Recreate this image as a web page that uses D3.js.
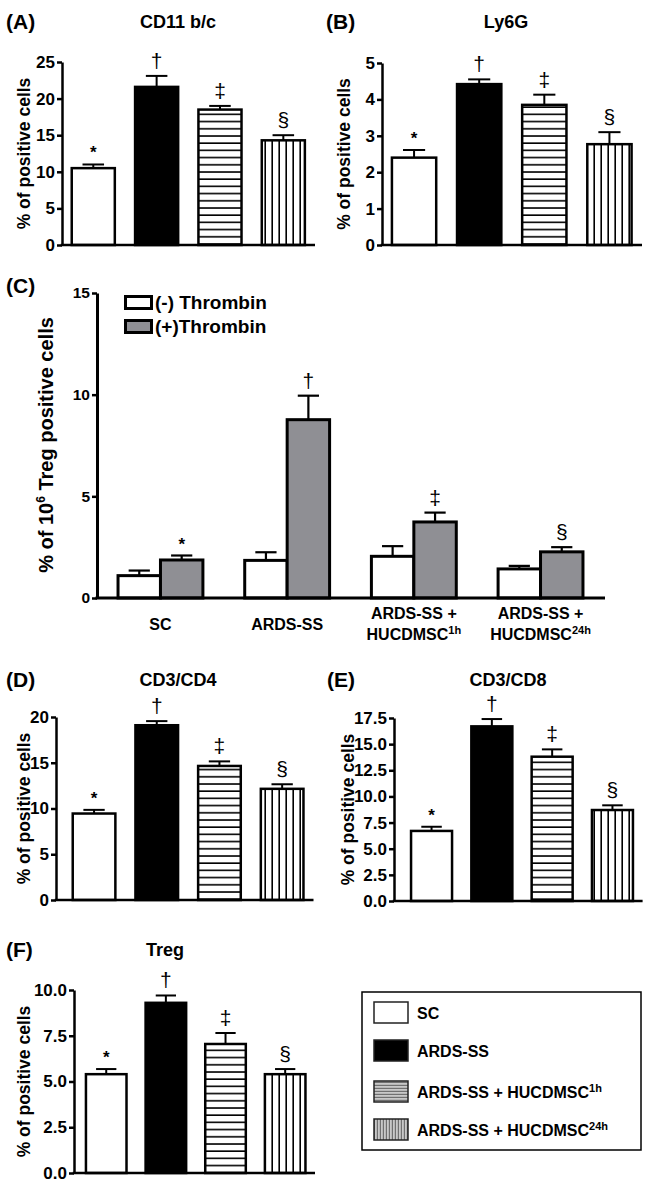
<!DOCTYPE html>
<html>
<head>
<meta charset="utf-8">
<script src="https://cdn.jsdelivr.net/npm/d3@7"></script>
<style>
  html, body { margin: 0; padding: 0; background: #fff; }
  text { font-family: "Liberation Sans", Arial, Helvetica, sans-serif; }
</style>
</head>
<body>
<svg id="chart" width="650" height="1185"></svg>
<script>
// ---------------- DATA ----------------
const categories = ["SC", "ARDS-SS", "ARDS-SS + HUCDMSC1h", "ARDS-SS + HUCDMSC24h"];
const sigSymbols = ["*", "\u2020", "\u2021", "\u00A7"];

const cd11Values = [10.5, 21.6, 18.5, 14.3];
const cd11Errors = [0.5, 1.5, 0.5, 0.7];
const cd11Ticks = [0, 5, 10, 15, 20, 25];

const ly6gValues = [2.4, 4.42, 3.85, 2.77];
const ly6gErrors = [0.21, 0.13, 0.28, 0.33];
const ly6gTicks = [0, 1, 2, 3, 4, 5];

const thrombinNegValues = [1.1, 1.85, 2.05, 1.43];
const thrombinNegErrors = [0.25, 0.4, 0.5, 0.15];
const thrombinPosValues = [1.87, 8.77, 3.74, 2.27];
const thrombinPosErrors = [0.22, 1.18, 0.46, 0.23];
const tregTotalTicks = [0, 5, 10, 15];
const thrombinLegend = ["(-) Thrombin", "(+)Thrombin"];
const groupLabels = [["SC"], ["ARDS-SS"], ["ARDS-SS +", "HUCDMSC", "1h"], ["ARDS-SS +", "HUCDMSC", "24h"]];

const cd4Values = [9.45, 19.1, 14.65, 12.15];
const cd4Errors = [0.4, 0.45, 0.5, 0.5];
const cd4Ticks = [0, 5, 10, 15, 20];

const cd8Values = [6.7, 16.7, 13.8, 8.7];
const cd8Errors = [0.4, 0.7, 0.7, 0.45];
const cd8Ticks = [0, 2.5, 5, 7.5, 10, 12.5, 15, 17.5];

const tregValues = [5.4, 9.3, 7.05, 5.4];
const tregErrors = [0.28, 0.4, 0.6, 0.28];
const tregTicks = [0, 2.5, 5, 7.5, 10];

const legendLabels = ["SC", "ARDS-SS", "ARDS-SS + HUCDMSC", "ARDS-SS + HUCDMSC"];
const legendSups = ["", "", "1h", "24h"];

// ---------------- DRAW ----------------
const svg = d3.select("#chart");
const defs = svg.append("defs");

const hp = defs.append("pattern").attr("id", "hstripe").attr("patternUnits", "userSpaceOnUse")
  .attr("width", 10).attr("height", 7.2);
hp.append("rect").attr("width", 10).attr("height", 7.2).attr("fill", "#fff");
hp.append("rect").attr("x", 0).attr("y", 5.6).attr("width", 10).attr("height", 1.6).attr("fill", "#000");

const vp = defs.append("pattern").attr("id", "vstripe").attr("patternUnits", "userSpaceOnUse")
  .attr("width", 7).attr("height", 10);
vp.append("rect").attr("width", 7).attr("height", 10).attr("fill", "#fff");
vp.append("rect").attr("x", 5.4).attr("y", 0).attr("width", 1.6).attr("height", 10).attr("fill", "#000");

const lhp = defs.append("pattern").attr("id", "lhstripe").attr("patternUnits", "userSpaceOnUse")
  .attr("width", 4).attr("height", 3);
lhp.append("rect").attr("width", 4).attr("height", 3).attr("fill", "#c8c8c8");
lhp.append("rect").attr("y", 1.8).attr("width", 4).attr("height", 1.2).attr("fill", "#707070");

const lvp = defs.append("pattern").attr("id", "lvstripe").attr("patternUnits", "userSpaceOnUse")
  .attr("width", 3).attr("height", 4);
lvp.append("rect").attr("width", 3).attr("height", 4).attr("fill", "#c8c8c8");
lvp.append("rect").attr("x", 1.8).attr("width", 1.2).attr("height", 4).attr("fill", "#707070");

const barFills = ["#ffffff", "#000000", "url(#hstripe)", "url(#vstripe)"];
const legendFills = ["#ffffff", "#000000", "url(#lhstripe)", "url(#lvstripe)"];
const FONT = '"Liberation Sans", Arial, Helvetica, sans-serif';

function styleAxis(g, fontSize) {
  g.select(".domain").attr("stroke", "#000").attr("stroke-width", 2.5);
  g.selectAll(".tick line").attr("stroke", "#000").attr("stroke-width", 2.5);
  g.selectAll(".tick text").attr("fill", "#000").attr("font-size", fontSize)
    .attr("font-weight", "bold").attr("font-family", FONT);
}

function yLabel(x, yc, size, build) {
  const t = svg.append("text")
    .attr("transform", `translate(${x},${yc}) rotate(-90)`)
    .attr("text-anchor", "middle").attr("font-size", size).attr("font-weight", "bold");
  build(t);
  return t;
}

function symbolText(g, cx, yTop, sym) {
  g.append("text").attr("x", cx).attr("y", yTop - (sym === "*" ? 6 : 8))
    .attr("text-anchor", "middle")
    .attr("font-size", sym === "*" ? 17 : 21)
    .attr("font-weight", sym === "*" ? "bold" : "normal")
    .attr("fill", "#000")
    .text(sym);
}

function drawPanel(cfg) {
  const y = d3.scaleLinear().domain([0, cfg.yMax]).range([cfg.y0, cfg.yTop]);
  const x = d3.scaleBand().domain(categories).range([cfg.r0, cfg.r1])
    .paddingInner(0.32).paddingOuter(0.16);
  const g = svg.append("g");

  g.selectAll("rect.bar").data(cfg.values).enter().append("rect")
    .attr("x", (d, i) => x(categories[i]))
    .attr("y", d => y(d))
    .attr("width", x.bandwidth())
    .attr("height", d => y(0) - y(d))
    .attr("fill", (d, i) => barFills[i])
    .attr("stroke", "#000").attr("stroke-width", 2.5);

  const cw = x.bandwidth() / 2;
  cfg.values.forEach((v, i) => {
    const cx = x(categories[i]) + x.bandwidth() / 2;
    const top = v + cfg.errors[i];
    g.append("line").attr("x1", cx).attr("x2", cx).attr("y1", y(v)).attr("y2", y(top))
      .attr("stroke", "#000").attr("stroke-width", 2);
    g.append("line").attr("x1", cx - cw / 2).attr("x2", cx + cw / 2).attr("y1", y(top)).attr("y2", y(top))
      .attr("stroke", "#000").attr("stroke-width", 2);
    symbolText(g, cx, y(top), sigSymbols[i]);
  });

  const ya = g.append("g").attr("transform", `translate(${cfg.axisX},0)`)
    .call(d3.axisLeft(y).tickValues(cfg.ticks).tickSize(5).tickSizeOuter(0).tickPadding(2)
      .tickFormat(cfg.fmt ? d3.format(cfg.fmt) : d3.format("d")));
  styleAxis(ya, 17);
  g.append("line").attr("x1", cfg.axisX - 1.25).attr("x2", cfg.r1).attr("y1", cfg.y0).attr("y2", cfg.y0)
    .attr("stroke", "#000").attr("stroke-width", 2.5);

  svg.append("text").attr("x", cfg.titleX).attr("y", cfg.titleY).attr("text-anchor", "middle")
    .attr("font-size", 18).attr("font-weight", "bold").text(cfg.title);
  svg.append("text").attr("x", cfg.plX).attr("y", cfg.titleY + 1)
    .attr("font-size", 21).attr("font-weight", "bold").text(cfg.panel);
  yLabel(cfg.ylabX, (cfg.y0 + cfg.yTop) / 2, 17.5, t => t.text("% of positive cells"));
}

drawPanel({ values: cd11Values, errors: cd11Errors, ticks: cd11Ticks, yMax: 25,
  axisX: 62, r0: 61.6, r1: 315, y0: 245, yTop: 62,
  title: "CD11 b/c", titleX: 178, titleY: 28, panel: "(A)", plX: 6, ylabX: 30 });

drawPanel({ values: ly6gValues, errors: ly6gErrors, ticks: ly6gTicks, yMax: 5,
  axisX: 382, r0: 381.5, r1: 642, y0: 245, yTop: 63,
  title: "Ly6G", titleX: 506, titleY: 28, panel: "(B)", plX: 326, ylabX: 350 });

drawPanel({ values: cd4Values, errors: cd4Errors, ticks: cd4Ticks, yMax: 20,
  axisX: 56, r0: 62.7, r1: 313.5, y0: 900, yTop: 717,
  title: "CD3/CD4", titleX: 178, titleY: 686, panel: "(D)", plX: 6, ylabX: 30 });

drawPanel({ values: cd8Values, errors: cd8Errors, ticks: cd8Ticks, yMax: 17.5, fmt: ".1f",
  axisX: 394, r0: 401.4, r1: 642.6, y0: 901, yTop: 718,
  title: "CD3/CD8", titleX: 508, titleY: 686, panel: "(E)", plX: 327, ylabX: 354 });

drawPanel({ values: tregValues, errors: tregErrors, ticks: tregTicks, yMax: 10, fmt: ".1f",
  axisX: 74, r0: 76.4, r1: 315, y0: 1173, yTop: 990,
  title: "Treg", titleX: 165, titleY: 956, panel: "(F)", plX: 6, ylabX: 30 });

// ---------------- PANEL C ----------------
(function () {
  const y = d3.scaleLinear().domain([0, 15]).range([598, 293]);
  const x = d3.scaleBand().domain(categories).range([97, 604]).paddingInner(0.33).paddingOuter(0.166);
  const sub = d3.scaleBand().domain([0, 1]).range([0, x.bandwidth()]).padding(0);
  const g = svg.append("g");
  const series = [
    { vals: thrombinNegValues, errs: thrombinNegErrors, fill: "#ffffff" },
    { vals: thrombinPosValues, errs: thrombinPosErrors, fill: "#8f8f94" }
  ];
  series.forEach((s, si) => {
    s.vals.forEach((v, i) => {
      const bx = x(categories[i]) + sub(si);
      const bw = sub.bandwidth();
      const cx = bx + bw / 2;
      const top = v + s.errs[i];
      g.append("line").attr("x1", cx).attr("x2", cx).attr("y1", y(v)).attr("y2", y(top))
        .attr("stroke", "#000").attr("stroke-width", 2.2);
      g.append("line").attr("x1", cx - bw / 4).attr("x2", cx + bw / 4).attr("y1", y(top)).attr("y2", y(top))
        .attr("stroke", "#000").attr("stroke-width", 2.2);
      g.append("rect").attr("x", bx).attr("y", y(v)).attr("width", bw).attr("height", y(0) - y(v))
        .attr("fill", s.fill).attr("stroke", "#000").attr("stroke-width", 3);
      if (si === 1) symbolText(g, cx, y(top), sigSymbols[i]);
    });
  });
  const ya = g.append("g").attr("transform", "translate(97,0)")
    .call(d3.axisLeft(y).tickValues(tregTotalTicks).tickSize(5).tickSizeOuter(0).tickPadding(2)
      .tickFormat(d3.format("d")));
  styleAxis(ya, 15.5);
  ya.select(".domain").attr("stroke-width", 3);
  g.append("line").attr("x1", 95.5).attr("x2", 605).attr("y1", 598).attr("y2", 598)
    .attr("stroke", "#000").attr("stroke-width", 3);

  groupLabels.forEach((lines, i) => {
    const cx = x(categories[i]) + x.bandwidth() / 2;
    if (lines.length === 1) {
      svg.append("text").attr("x", cx).attr("y", 630).attr("text-anchor", "middle")
        .attr("font-size", 16).attr("font-weight", "bold").text(lines[0]);
    } else {
      svg.append("text").attr("x", cx).attr("y", 619).attr("text-anchor", "middle")
        .attr("font-size", 16).attr("font-weight", "bold").text(lines[0]);
      const t = svg.append("text").attr("x", cx).attr("y", 640).attr("text-anchor", "middle")
        .attr("font-size", 16).attr("font-weight", "bold");
      t.append("tspan").text(lines[1]);
      t.append("tspan").attr("dy", -6).attr("font-size", 11).text(lines[2]);
    }
  });

  thrombinLegend.forEach((lab, i) => {
    svg.append("rect").attr("x", 125.5).attr("y", 296.5 + i * 24).attr("width", 26).attr("height", 12)
      .attr("fill", series[i].fill).attr("stroke", "#000").attr("stroke-width", 3);
    svg.append("text").attr("x", 155).attr("y", 308.5 + i * 24).attr("font-size", 19)
      .attr("font-weight", "bold").text(lab);
  });

  svg.append("text").attr("x", 6).attr("y", 293).attr("font-size", 21).attr("font-weight", "bold").text("(C)");
  yLabel(53, 445, 20, t => {
    t.append("tspan").text("% of 10");
    t.append("tspan").attr("dy", -8).attr("font-size", 12).text("6");
    t.append("tspan").attr("dy", 8).text(" Treg positive cells");
  });
})();

// ---------------- GROUP LEGEND ----------------
svg.append("rect").attr("x", 362).attr("y", 992).attr("width", 279).attr("height", 158)
  .attr("fill", "#fff").attr("stroke", "#000").attr("stroke-width", 1.5);
const legendRowY = [1002, 1040, 1081, 1119];
legendLabels.forEach((lab, i) => {
  svg.append("rect").attr("x", 374).attr("y", legendRowY[i]).attr("width", 34).attr("height", 21)
    .attr("fill", legendFills[i]).attr("stroke", "#222").attr("stroke-width", 1.5);
  const t = svg.append("text").attr("x", 417).attr("y", legendRowY[i] + 17)
    .attr("font-size", 16).attr("font-weight", "bold");
  t.append("tspan").text(lab);
  if (legendSups[i]) t.append("tspan").attr("dy", -6).attr("font-size", 11).text(legendSups[i]);
});
</script>
</body>
</html>
